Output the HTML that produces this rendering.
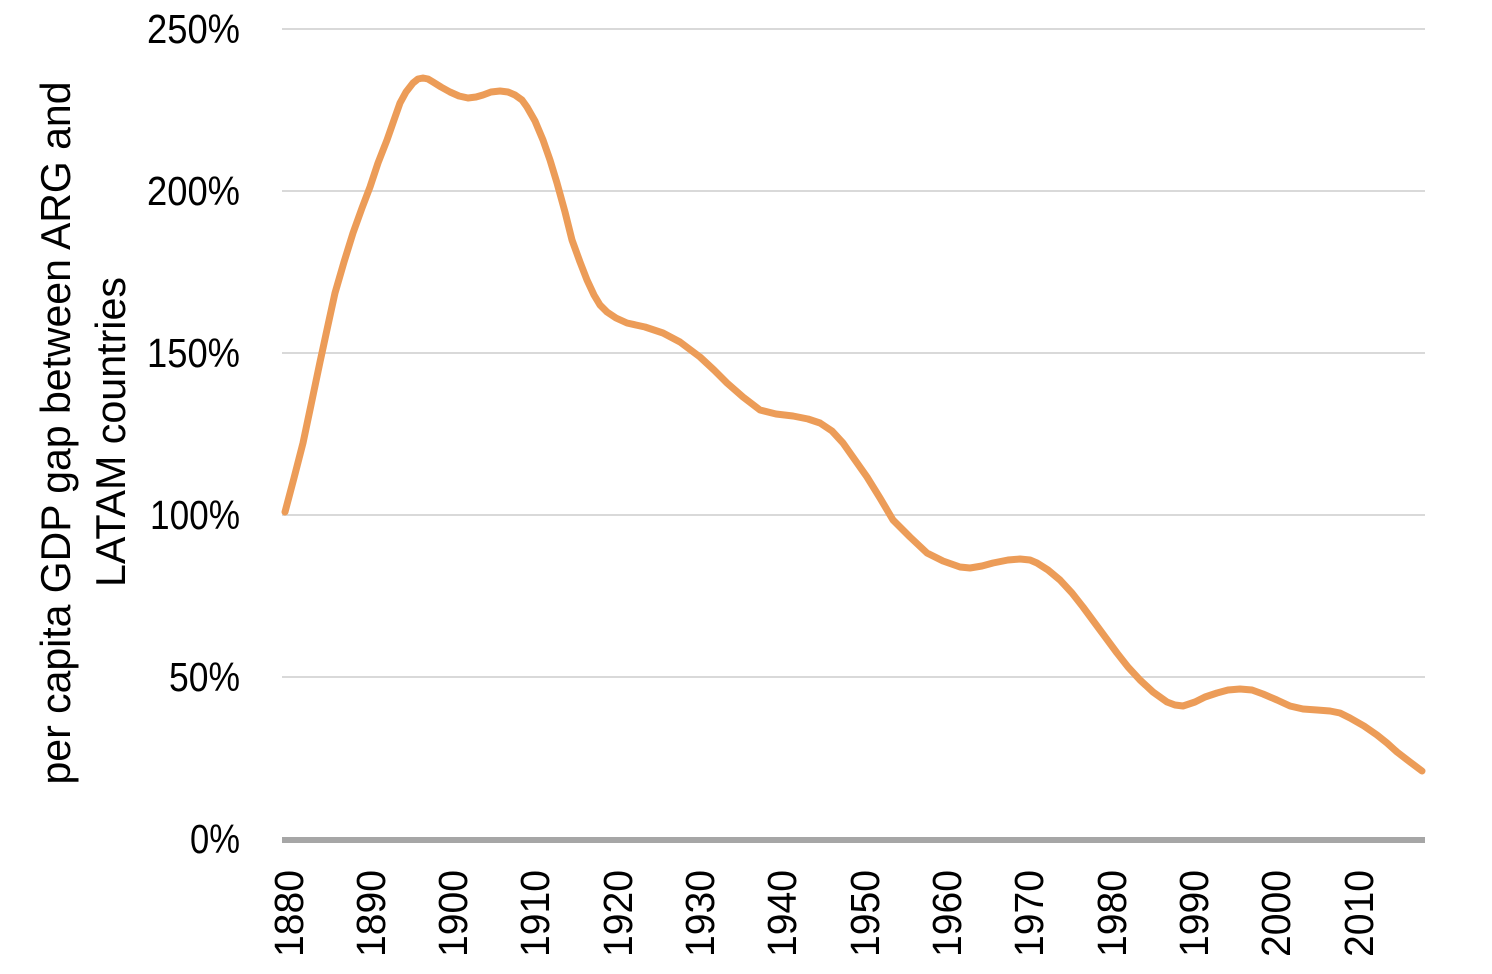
<!DOCTYPE html>
<html>
<head>
<meta charset="utf-8">
<style>
html,body{margin:0;padding:0;background:#fff;}
svg{display:block;}
text{font-family:"Liberation Sans",sans-serif;fill:#000;}
</style>
</head>
<body>
<svg width="1492" height="974" viewBox="0 0 1492 974" xmlns="http://www.w3.org/2000/svg">
<rect width="1492" height="974" fill="#fff"/>
<!-- gridlines -->
<g stroke="#d9d9d9" stroke-width="2">
<line x1="282" y1="29" x2="1425" y2="29"/>
<line x1="282" y1="191" x2="1425" y2="191"/>
<line x1="282" y1="353" x2="1425" y2="353"/>
<line x1="282" y1="515" x2="1425" y2="515"/>
<line x1="282" y1="677" x2="1425" y2="677"/>
</g>
<!-- y labels -->
<g font-size="41" text-anchor="end">
<text x="240" y="43" textLength="93" lengthAdjust="spacingAndGlyphs">250%</text>
<text x="240" y="205" textLength="93" lengthAdjust="spacingAndGlyphs">200%</text>
<text x="240" y="367" textLength="93" lengthAdjust="spacingAndGlyphs">150%</text>
<text x="240" y="529" textLength="90" lengthAdjust="spacingAndGlyphs">100%</text>
<text x="240" y="691" textLength="71" lengthAdjust="spacingAndGlyphs">50%</text>
<text x="240" y="853" textLength="50" lengthAdjust="spacingAndGlyphs">0%</text>
</g>
<!-- axis title -->
<g font-size="42" text-anchor="middle">
<text transform="translate(70,433) rotate(-90)" textLength="703" lengthAdjust="spacingAndGlyphs">per capita GDP gap between ARG and</text>
<text transform="translate(125,432) rotate(-90)" textLength="310" lengthAdjust="spacingAndGlyphs">LATAM countries</text>
</g>
<!-- series -->
<polyline fill="none" stroke="#ec9c58" stroke-width="7" stroke-linejoin="round" stroke-linecap="round" points="
285,512 294,478 303,443 311,405 320,362 328,325 335,293 344,262 353,233 362,208 370,187 378,163 387,140 394,120 400,103 406,92 413,83 418,79 423,78 428,79 433,82 441,87 450,92 459,96 468,98 476,97 483,95 491,92 500,91 508,92 515,95 522,100 527,107 535,121 543,140 550,160 557,183 565,212 572,240 580,262 587,280 594,295 600,305 607,312 616,318 627,323 645,327 663,333 680,342 700,357 714,370 727,383 743,397 760,410 776,414 793,416 808,419 820,423 832,431 843,443 855,460 867,477 880,498 893,520 910,537 927,553 943,561 960,567 970,568 982,566 993,563 1008,560 1020,559 1030,560 1037,563 1048,570 1060,580 1072,593 1083,607 1100,630 1117,653 1128,667 1140,680 1153,692 1167,702 1175,705 1183,706 1195,702 1205,697 1217,693 1228,690 1240,689 1252,690 1263,694 1277,700 1290,706 1303,709 1317,710 1330,711 1340,713 1350,718 1364,726 1377,735 1387,743 1397,752 1410,762 1422,771"/>
<!-- x axis -->
<rect x="282" y="837" width="1143" height="6" fill="#a6a6a6"/>
<!-- x labels -->
<g font-size="41" text-anchor="end">
<text transform="translate(303,870) rotate(-90)" textLength="87" lengthAdjust="spacingAndGlyphs">1880</text>
<text transform="translate(385,870) rotate(-90)" textLength="87" lengthAdjust="spacingAndGlyphs">1890</text>
<text transform="translate(467,870) rotate(-90)" textLength="87" lengthAdjust="spacingAndGlyphs">1900</text>
<text transform="translate(549,870) rotate(-90)" textLength="87" lengthAdjust="spacingAndGlyphs">1910</text>
<text transform="translate(632,870) rotate(-90)" textLength="87" lengthAdjust="spacingAndGlyphs">1920</text>
<text transform="translate(714,870) rotate(-90)" textLength="87" lengthAdjust="spacingAndGlyphs">1930</text>
<text transform="translate(796,870) rotate(-90)" textLength="87" lengthAdjust="spacingAndGlyphs">1940</text>
<text transform="translate(879,870) rotate(-90)" textLength="87" lengthAdjust="spacingAndGlyphs">1950</text>
<text transform="translate(961,870) rotate(-90)" textLength="87" lengthAdjust="spacingAndGlyphs">1960</text>
<text transform="translate(1043,870) rotate(-90)" textLength="87" lengthAdjust="spacingAndGlyphs">1970</text>
<text transform="translate(1126,870) rotate(-90)" textLength="87" lengthAdjust="spacingAndGlyphs">1980</text>
<text transform="translate(1208,870) rotate(-90)" textLength="87" lengthAdjust="spacingAndGlyphs">1990</text>
<text transform="translate(1290,870) rotate(-90)" textLength="87" lengthAdjust="spacingAndGlyphs">2000</text>
<text transform="translate(1373,870) rotate(-90)" textLength="87" lengthAdjust="spacingAndGlyphs">2010</text>
</g>
</svg>
</body>
</html>
